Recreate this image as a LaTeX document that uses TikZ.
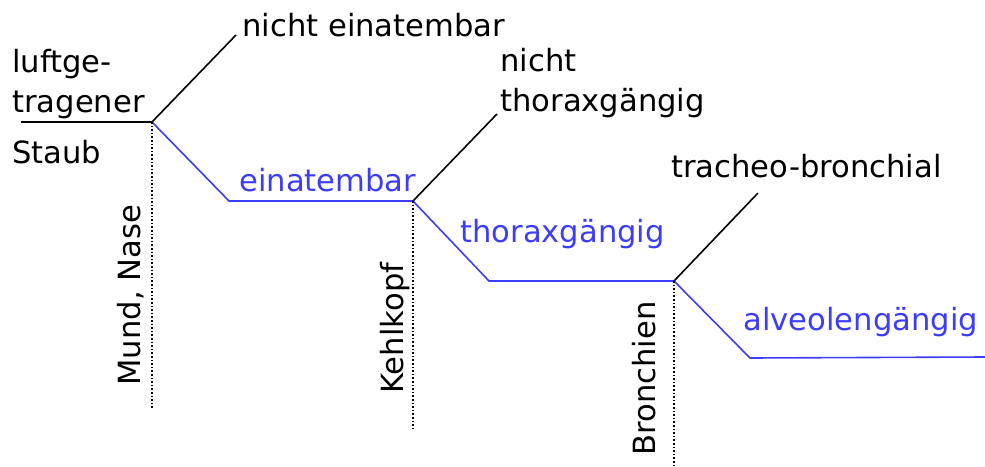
\documentclass[tikz,border=0pt]{standalone}
\usepackage{fontspec}
\setmainfont{DejaVu Sans}
\definecolor{staubblau}{RGB}{60,60,250}
\tikzset{
	zweig/.style={staubblau,line width=0.8pt},
	abzweig/.style={black,line width=0.8pt},
	grenze/.style={black,densely dotted,line width=0.8pt},
	txt/.style={font=\fontsize{15.3}{18}\selectfont,inner sep=0pt,anchor=base west},
	blautxt/.style={txt,text=staubblau},
	senkrecht/.style={txt,rotate=90}
}
\begin{document}
\begin{tikzpicture}[x=0.5pt,y=-0.5pt]
		\useasboundingbox (0,0) rectangle (985,466);
		% Knickpunkte
		\coordinate (start) at (21,122);
		\coordinate (mund) at (152,122);
		\coordinate (mundend) at (236,35);
		\coordinate (eink) at (229,201);
		\coordinate (kehl) at (413,201);
		\coordinate (kehlend) at (497,114);
		\coordinate (thxk) at (489,281);
		\coordinate (bron) at (674,281);
		\coordinate (bronend) at (758,193);
		\coordinate (alvk) at (750,358);
		\coordinate (ende) at (985,357);
		\coordinate (mundunten) at (152,408);
		\coordinate (kehlunten) at (413,430);
		\coordinate (bronunten) at (674,466);
		% Linien
		\draw[abzweig] (start) -- (mund) -- (mundend);
		\draw[zweig] (mund) -- (eink) -- (kehl);
		\draw[abzweig] (kehl) -- (kehlend);
		\draw[zweig] (kehl) -- (thxk) -- (bron);
		\draw[abzweig] (bron) -- (bronend);
		\draw[zweig] (bron) -- (alvk) -- (ende);
		\draw[grenze] (mund) -- (mundunten);
		\draw[grenze] (kehl) -- (kehlunten);
		\draw[grenze] (bron) -- (bronunten);
		% Texte
		\node[txt] (luft1) at (12,72) {luftge-};
		\node[txt] (luft2) at (12,112) {tragener};
		\node[txt] (staub) at (12,163) {Staub};
		\node[txt] (nein) at (242,36) {nicht einatembar};
		\node[blautxt] (ein) at (239,191) {einatembar};
		\node[txt] (nthx1) at (500,71) {nicht};
		\node[txt] (nthx2) at (500,111) {thoraxgängig};
		\node[blautxt] (thx) at (460,242) {thoraxgängig};
		\node[txt] (tb) at (671,177) {tracheo-bronchial};
		\node[blautxt] (alv) at (743,330) {alveolengängig};
		\node[senkrecht] (mundnase) at (140,386) {Mund, Nase};
		\node[senkrecht] (kehlkopf) at (403,394) {Kehlkopf};
		\node[senkrecht] (bronchien) at (655,456) {Bronchien};
\end{tikzpicture}
\end{document}
